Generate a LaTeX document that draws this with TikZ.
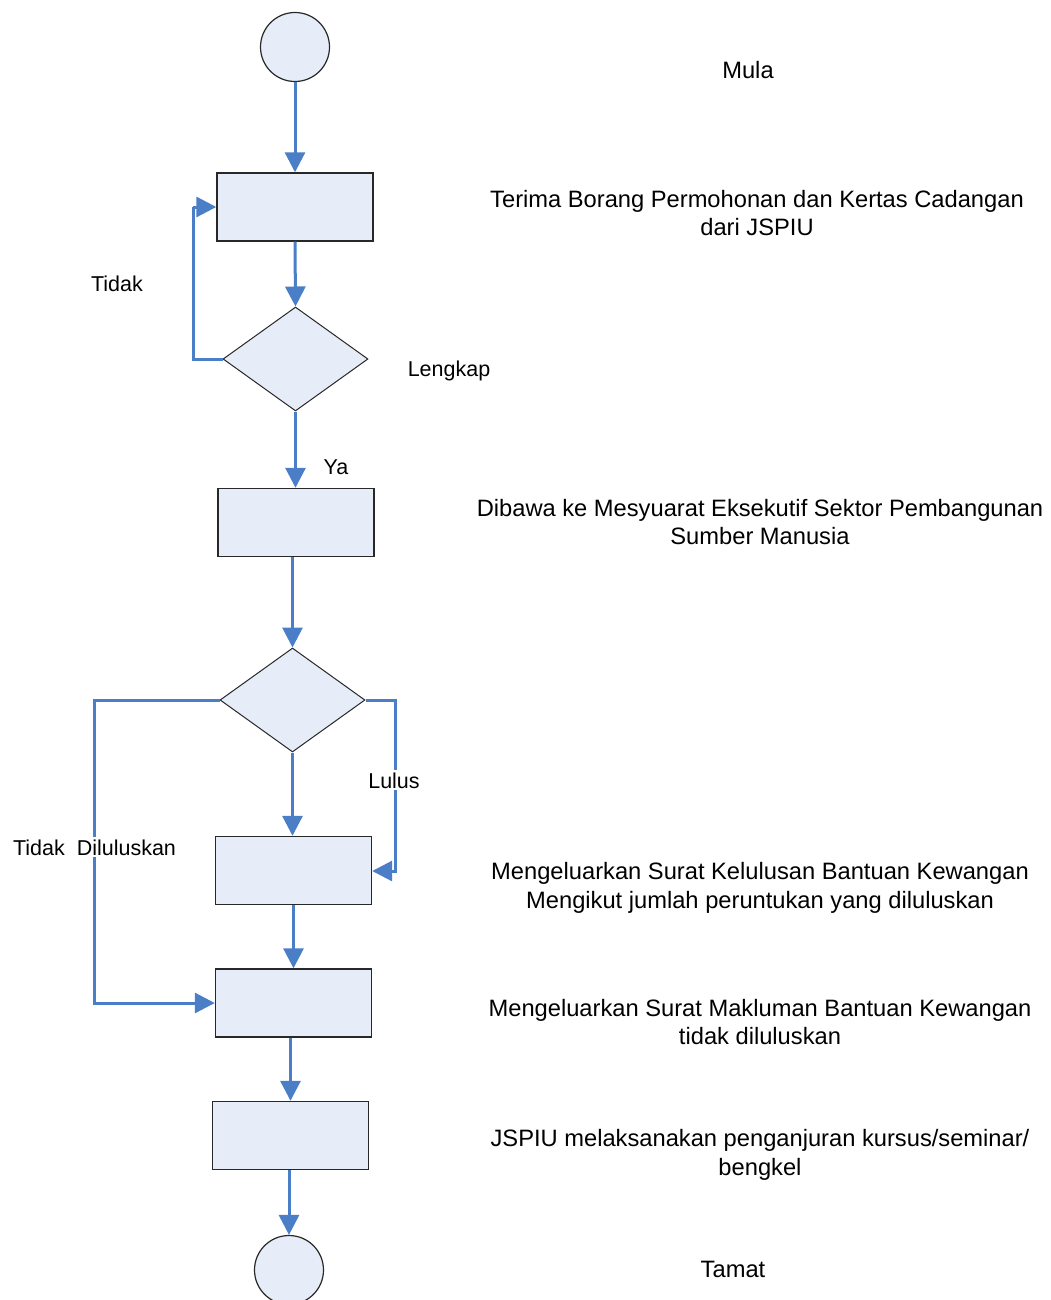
\documentclass[tikz,border=0pt]{standalone}
\usepackage{fontspec}
\setmainfont{Liberation Sans}
\usetikzlibrary{shapes.geometric,arrows.meta}
\definecolor{fillblue}{RGB}{230,237,248}
\definecolor{lineblue}{RGB}{74,126,199}
\definecolor{edgegray}{RGB}{40,40,40}
\begin{document}
\begin{tikzpicture}[x=1pt,y=-1pt,
  every node/.style={font=\fontsize{23.7}{28.5}\selectfont},
  stepbox/.style={draw=edgegray,line width=1.4pt,fill=fillblue,minimum width=156pt,minimum height=68pt,inner sep=0pt},
  decide/.style={draw=edgegray,line width=1pt,fill=fillblue,shape=diamond,minimum width=145pt,minimum height=104pt,inner sep=0pt},
  term/.style={draw=edgegray,line width=1.2pt,fill=fillblue,shape=circle,minimum size=69pt,inner sep=0pt},
  flow/.style={draw=lineblue,line width=3pt,-{Triangle[length=20pt,width=20pt]}},
  plain/.style={draw=lineblue,line width=3pt},
  note/.style={align=center,inner sep=0pt},
  small/.style={font=\fontsize{21.5}{26}\selectfont},
  lbl/.style={small,fill=white,inner sep=2pt}
]
\useasboundingbox (0,0) rectangle (1050,1300);
% shapes
\node[term] (start) at (295,47) {};
\node[stepbox] (b1) at (295,207) {};
\node[decide] (d1) at (295.5,359) {};
\node[stepbox] (b2) at (296,522.5) {};
\node[decide] (d2) at (292.5,700) {};
\node[stepbox] (b3) at (293.5,870.5) {};
\node[stepbox] (b4) at (293.5,1003) {};
\node[stepbox] (b5) at (290.5,1135.5) {};
\node[term] (end) at (289,1270) {};
% coordinates
\coordinate (l1) at (193,359);
\coordinate (l1t) at (193,207);
\coordinate (rR) at (395,700);
\coordinate (rRb) at (395,871);
\coordinate (lL) at (94,700);
\coordinate (lLb) at (94,1003);
% connectors
\draw[flow] (start.south) -- (b1.north);
\draw[flow] (b1.south) -- (d1.north);
\draw[plain] (d1.west) -- (l1) -- (l1t);
\draw[flow] (l1t) -- (b1.west);
\draw[flow] (d1.south) -- (d1.south |- b2.north);
\draw[flow] (b2.south -| d2.north) -- (d2.north);
\draw[flow] (d2.south) -- (d2.south |- b3.north);
\draw[flow] (d2.east) -- (rR) -- (rRb) -- (rRb -| b3.east);
\draw[flow] (d2.west) -- (lL) -- (lLb) -- (lLb -| b4.west);
\draw[flow] (b3.south) -- (b4.north);
\draw[flow] (b4.south -| b5.north) -- (b5.north);
\draw[flow] (b5.south -| end.north) -- (end.north);
% labels on connectors
\node[small,anchor=base] (tidak1) at (117,291) {Tidak};
\node[small,anchor=base] (lengkap) at (449,376) {Lengkap};
\node[small,anchor=base] (ya) at (336,474) {Ya};
\node[lbl,anchor=base] (lulus) at (394,788) {Lulus};
\node[lbl,anchor=base] (tdl) at (94.5,855) {Tidak\ \ Diluluskan};
% descriptions
\node[note] (t0) at (748,70) {Mula};
\node[note] (t1) at (757,213) {Terima Borang Permohonan dan Kertas Cadangan\\dari JSPIU};
\node[note] (t2) at (760,522) {Dibawa ke Mesyuarat Eksekutif Sektor Pembangunan\\Sumber Manusia};
\node[note] (t3) at (760,888) {Mengeluarkan Surat Kelulusan Bantuan Kewangan\\Mengikut jumlah peruntukan yang diluluskan};
\node[note] (t4) at (760,1022) {Mengeluarkan Surat Makluman Bantuan Kewangan\\tidak diluluskan};
\node[note] (t5) at (760,1155) {JSPIU melaksanakan penganjuran kursus/seminar/\\bengkel};
\node[note] (t6) at (733,1269) {Tamat};
\end{tikzpicture}
\end{document}
